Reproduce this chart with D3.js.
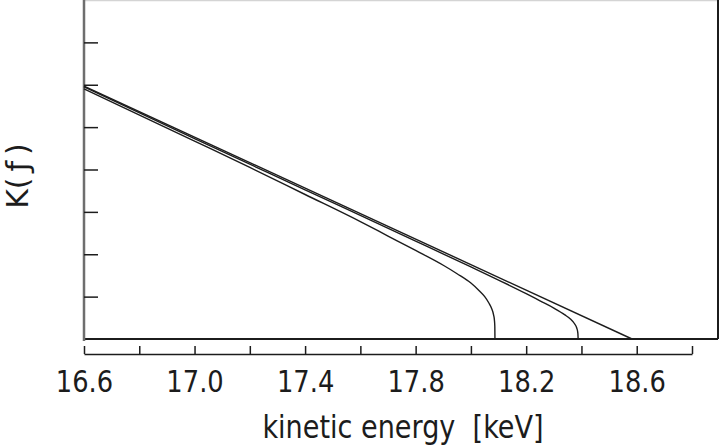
<!DOCTYPE html>
<html>
<head>
<meta charset="utf-8">
<script src="https://cdn.jsdelivr.net/npm/d3@7"></script>
<style>
  body { margin: 0; background: #fff; }
  text { font-family: "DejaVu Sans", sans-serif; fill: #1c1c1c; }
</style>
</head>
<body>
<svg id="chart" width="728" height="448"></svg>
<script>
// x ticks every 0.2 keV, labels every 0.4 keV
var xTicks = [16.6, 16.8, 17.0, 17.2, 17.4, 17.6, 17.8, 18.0, 18.2, 18.4, 18.6, 18.8];
var xTickLabels = ["16.6", "", "17.0", "", "17.4", "", "17.8", "", "18.2", "", "18.6", ""];
var yTicks = [1, 2, 3, 4, 5, 6, 7];

// massless neutrino: straight Kurie line
var straightE = [16.6, 18.583];
var straightK = [5.97, 0];

// small mass: curve bending down to ~18.39 keV
var smallE = [16.6, 17.0, 17.4, 17.8, 18.0, 18.1, 18.2, 18.25, 18.3, 18.34, 18.36, 18.375, 18.383, 18.387, 18.388];
var smallK = [5.95, 4.73, 3.52, 2.31, 1.70, 1.39, 1.07, 0.90, 0.73, 0.57, 0.47, 0.36, 0.26, 0.14, 0.00];

// large mass: curve bending down to ~18.09 keV
var largeE = [16.6, 17.0, 17.2, 17.4, 17.6, 17.7, 17.8, 17.9, 17.95, 18.0, 18.03, 18.05, 18.065, 18.075, 18.082, 18.085, 18.0865, 18.087];
var largeK = [5.90, 4.67, 4.05, 3.41, 2.77, 2.43, 2.09, 1.74, 1.54, 1.32, 1.14, 1.00, 0.85, 0.72, 0.57, 0.45, 0.30, 0.00];

var svg = d3.select("#chart");

var boxLeft = 84, boxTop = 0, boxBottom = 339, boxRight = 718;
var squeeze = 0.86; // text in the picture is narrower than the font

var x = d3.scaleLinear().domain([16.6, 18.8]).range([boxLeft, 692]);
var y = d3.scaleLinear().domain([0, 8]).range([boxBottom, boxTop]);

// frame
svg.append("line").attr("x1", boxLeft).attr("x2", boxRight).attr("y1", 0.5).attr("y2", 0.5)
  .attr("stroke", "#d4d4d4").attr("stroke-width", 1.5);
svg.append("line").attr("x1", boxRight).attr("x2", boxRight).attr("y1", 0).attr("y2", boxBottom)
  .attr("stroke", "#1c1c1c").attr("stroke-width", 2);
svg.append("line").attr("x1", boxLeft).attr("x2", boxRight).attr("y1", boxBottom).attr("y2", boxBottom)
  .attr("stroke", "#1c1c1c").attr("stroke-width", 2);

// y axis, ticks pointing inward, no labels
var yAxis = svg.append("g")
  .attr("transform", "translate(" + boxLeft + ",0)")
  .call(d3.axisLeft(y).tickValues(yTicks).tickSize(-14).tickFormat(""));
yAxis.select(".domain").attr("stroke", "#6e6e6e").attr("stroke-width", 2.5)
  .attr("d", "M0," + boxTop + "V" + (boxBottom + 2));
yAxis.selectAll(".tick line").attr("stroke", "#1c1c1c").attr("stroke-width", 1.5);

// x axis below the box, ticks pointing up
var xAxis = svg.append("g")
  .attr("transform", "translate(0,354)")
  .call(d3.axisBottom(x).tickValues(xTicks).tickSize(-8).tickSizeOuter(0).tickPadding(17)
    .tickFormat(function(d, i) { return xTickLabels[i]; }));
xAxis.select(".domain").attr("stroke", "#1c1c1c").attr("stroke-width", 1.5);
xAxis.selectAll(".tick line").attr("stroke", "#1c1c1c").attr("stroke-width", 1.5);
xAxis.selectAll(".tick text")
  .attr("font-size", 30)
  .attr("transform", "scale(" + squeeze + ",1)")
  .style("font-family", '"DejaVu Sans", sans-serif')
  .attr("fill", "#1c1c1c");

// axis titles
svg.append("text")
  .attr("transform", "translate(403,438) scale(" + squeeze + ",1)")
  .attr("text-anchor", "middle")
  .attr("font-size", 31.5)
  .style("white-space", "pre")
  .text("kinetic energy  [keV]");

svg.append("text")
  .attr("transform", "translate(28,176) rotate(-90)")
  .attr("text-anchor", "middle")
  .attr("font-size", 30)
  .text("K(\u2009\u0192\u2009)");

// curves
var line = d3.line()
  .x(function(d) { return x(d[0]); })
  .y(function(d) { return y(d[1]); })
  .curve(d3.curveMonotoneX);

var series = [
  d3.zip(straightE, straightK),
  d3.zip(smallE, smallK),
  d3.zip(largeE, largeK)
];

svg.selectAll("path.curve")
  .data(series)
  .enter().append("path")
  .attr("class", "curve")
  .attr("d", line)
  .attr("fill", "none")
  .attr("stroke", "#1c1c1c")
  .attr("stroke-width", 1.4);
</script>
</body>
</html>
